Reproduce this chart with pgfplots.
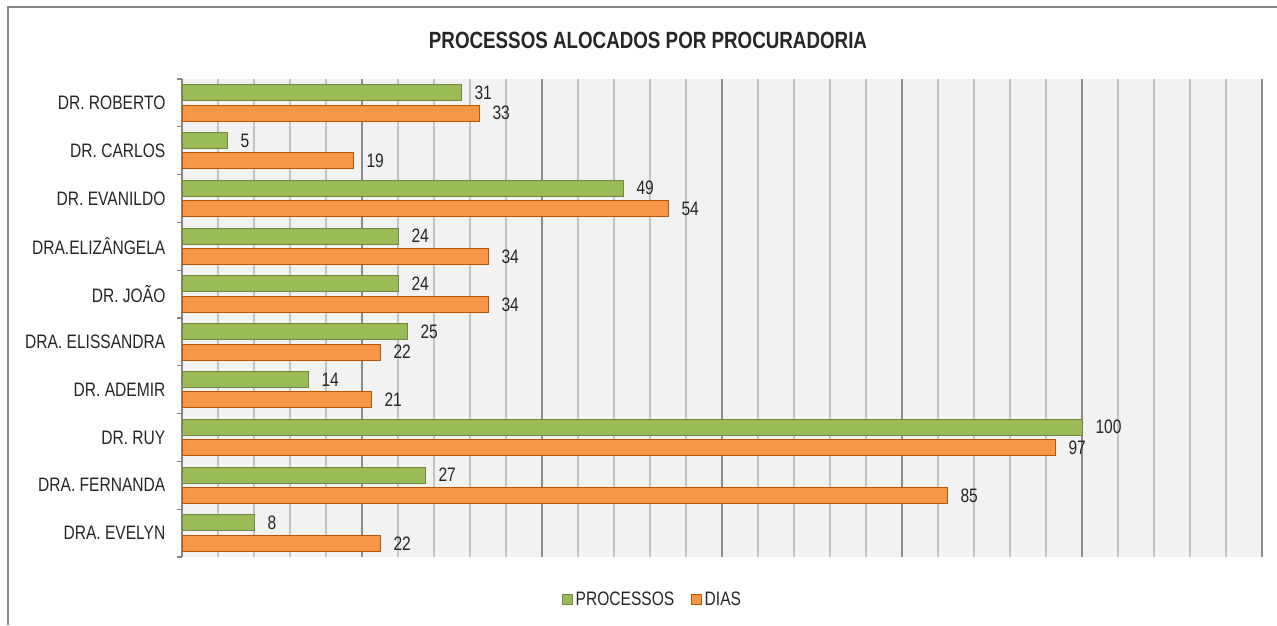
\documentclass[border=0pt]{standalone}
\usepackage{pgfplots}
\pgfplotsset{compat=1.18}
\usepackage{fontspec}
\setmainfont{Liberation Sans}[FakeStretch=0.8]
\definecolor{gfill}{HTML}{9BBB59}
\definecolor{gdraw}{HTML}{71893F}
\definecolor{ofill}{HTML}{F79646}
\definecolor{odraw}{HTML}{B65708}
\definecolor{plotbg}{HTML}{F2F2F2}
\definecolor{majgrid}{HTML}{8C8C8C}
\definecolor{mingrid}{HTML}{C4C4C4}
\definecolor{framec}{HTML}{868686}
\newcommand{\lblfont}{\fontsize{14.6}{17}\selectfont}
\begin{document}
\begin{tikzpicture}
\useasboundingbox (0,0) rectangle (957.75pt,468.75pt);
\draw[framec, line width=1.2pt] (6pt,0pt) -- (6pt,463.5pt) -- (957.75pt,463.5pt);
\node[font=\bfseries\fontsize{17.6}{21}\selectfont, text=black!85] at (486pt,438.75pt) {PROCESSOS ALOCADOS POR PROCURADORIA};
\begin{axis}[
 at={(136.5pt,51pt)}, anchor=south west,
 width=810pt, height=358.5pt, scale only axis,
 xmin=0, xmax=120, ymin=0.5, ymax=10.5,
 xbar, bar width=12pt,
 /pgf/number format/assume math mode=true,
 axis background/.style={fill=plotbg},
 axis x line*=bottom, x axis line style={draw=none},
 axis y line*=left, y axis line style={draw=framec, line width=1.1pt},
 xtick={0,20,...,120}, minor x tick num=4, xticklabels={},
 xtick style={/pgfplots/major tick length=0pt,/pgfplots/minor tick length=0pt},
 xmajorgrids, xminorgrids,
 major grid style={majgrid, line width=1pt},
 minor grid style={mingrid, line width=1pt},
 ytick={1,...,10},
 yticklabels={DRA. EVELYN, DRA. FERNANDA, DR. RUY, DR. ADEMIR, DRA. ELISSANDRA, DR. JOÃO, DRA.ELIZÂNGELA, DR. EVANILDO, DR. CARLOS, DR. ROBERTO},
 minor ytick={0.5,1.5,...,10.5},
 ytick style={/pgfplots/major tick length=0pt,/pgfplots/minor tick length=3.75pt, draw=framec, line width=1pt},
 tick align=outside,
 yticklabel style={anchor=east, inner sep=0pt, xshift=-8pt, font=\lblfont, text=black!85},
 nodes near coords,
 nodes near coords style={anchor=west, inner sep=0pt, xshift=9.75pt, font=\lblfont, text=black!85},
 legend style={at={(0.436,-0.0895)}, anchor=center, draw=none, fill=none, font=\lblfont, text=black!85, legend columns=2, /tikz/every even column/.append style={column sep=10.5pt}},
 legend image code/.code={\draw[#1, line width=0.75pt] (0pt,-3.75pt) rectangle (7.5pt,3.75pt);},
]
\addplot[fill=gfill, draw=gdraw, line width=0.75pt, bar shift=7.7pt] coordinates {
 (31,10) (5,9) (49,8) (24,7) (24,6) (25,5) (14,4) (100,3) (27,2) (8,1)};
\addlegendentry{PROCESSOS}
\addplot[fill=ofill, draw=odraw, line width=0.75pt, bar shift=-7.7pt] coordinates {
 (33,10) (19,9) (54,8) (34,7) (34,6) (22,5) (21,4) (97,3) (85,2) (22,1)};
\addlegendentry{DIAS}
\end{axis}
\end{tikzpicture}
\end{document}
